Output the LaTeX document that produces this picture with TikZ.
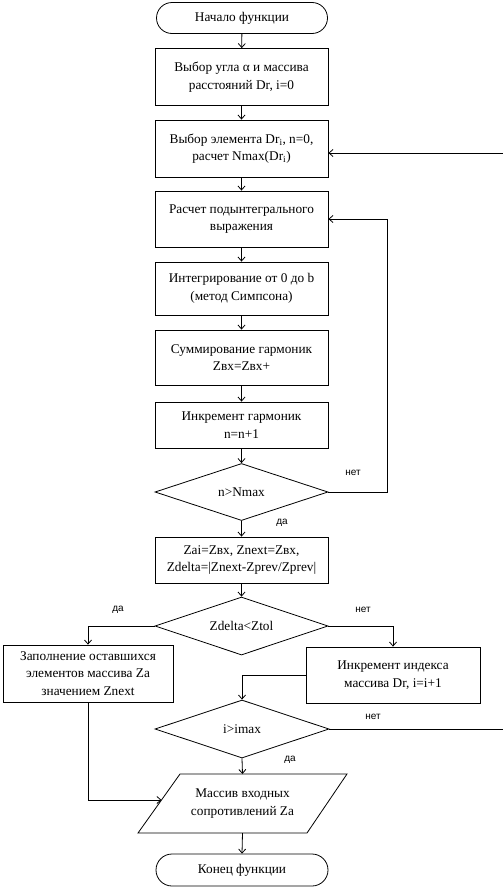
\documentclass[tikz,border=0pt]{standalone}
\usepackage{fontspec}
\setmainfont{Liberation Serif}
\newfontfamily\labfont{Liberation Sans}
\usetikzlibrary{shapes.geometric,shapes.misc,arrows.meta}
\begin{document}
\begin{tikzpicture}[x=1pt,y=-1pt,
  every node/.style={font=\fontsize{13.3}{17.5}\selectfont},
  box/.style={draw, line width=0.8pt, minimum width=173pt, align=center, inner sep=1pt},
  term/.style={draw, line width=0.8pt, rounded rectangle, minimum width=173pt, minimum height=31pt, inner sep=1pt},
  dec/.style={draw, line width=0.8pt, diamond, aspect=3, minimum width=173pt, minimum height=57pt, inner sep=0pt},
  lab/.style={font=\labfont\fontsize{10}{12}\selectfont, inner sep=0pt},
  arr/.style={line width=0.8pt, -{Straight Barb[length=4pt,width=7pt]}},
  ln/.style={line width=0.8pt}]
\useasboundingbox (0,0) rectangle (503,889);
\node[term] (start) at (242,18) {Начало функции};
\node[box, minimum height=57pt] (b1) at (241.5,77) {Выбор угла α и массива\\расстояний Dr, i=0};
\node[box, minimum height=57pt] (b2) at (241.5,148.5) {Выбор элемента Dr\textsubscript{i}, n=0,\\расчет Nmax(Dr\textsubscript{i})};
\node[box, minimum height=56pt] (b3) at (241.5,219) {Расчет подынтегрального\\выражения};
\node[box, minimum height=53pt] (b4) at (241.5,288.5) {Интегрирование от 0 до b\\(метод Симпсона)};
\node[box, minimum height=55pt] (b5) at (241.5,357.5) {Суммирование гармоник\\Zвх=Zвх+};
\node[box, minimum height=46pt] (b6) at (241.5,425) {Инкремент гармоник\\n=n+1};
\node[dec] (d1) at (241.5,492) {n>Nmax};
\node[box, minimum height=46pt] (b7) at (241.5,560) {Zai=Zвх, Znext=Zвх,\\Zdelta=|Znext-Zprev/Zprev|};
\node[dec, minimum height=58pt] (d2) at (241.5,626) {Zdelta<Ztol};
\node[box, minimum width=170pt, minimum height=57pt] (b8) at (88,673.5) {Заполнение оставшихся\\элементов массива Za\\значением Znext};
\node[box, minimum width=174pt, minimum height=56pt] (b9) at (393,675) {Инкремент индекса\\массива Dr, i=i+1};
\node[dec, minimum width=174pt, minimum height=58pt] (d3) at (242,729) {i>imax};
\coordinate (p1) at (138,833);
\coordinate (p2) at (307,833);
\coordinate (p3) at (347,774);
\coordinate (p4) at (180,774);
\draw[ln] (p1) -- (p2) -- (p3) -- (p4) -- cycle;
\node[align=center] (par) at (242.5,803.5) {Массив входных\\сопротивлений Za};
\coordinate (ptop) at (242.5,774);
\coordinate (pbot) at (242.5,833);
\coordinate (pleft) at (161.5,800);
\node[term, minimum width=174pt, minimum height=32pt] (end) at (242,870) {Конец функции};
% connectors
\draw[arr] (start) -- (b1);
\draw[arr] (b1) -- (b2);
\draw[arr] (b2) -- (b3);
\draw[arr] (b3) -- (b4);
\draw[arr] (b4) -- (b5);
\draw[arr] (b5) -- (b6);
\draw[arr] (b6) -- (d1);
\draw[arr] (d1) -- (b7);
\draw[arr] (b7) -- (d2);
\draw[arr] (d1.east) -- (387,492) |- (b3.east);
\draw[arr] (d2.west) -| (b8.north);
\draw[arr] (d2.east) -| (b9.north);
\draw[arr] (b9.west) -| (d3.north);
\coordinate (rin) at (b2.east |- 0,153);
\draw[arr] (d3.east) -- (507,729) -- (507,153) -- (rin);
\draw[arr] (d3.south) -- (ptop);
\draw[arr] (b8.south) |- (pleft);
\draw[arr] (pbot) -- (end.north);
% labels
\node[lab] (l1) at (353,473) {нет};
\node[lab] (l2) at (282,523) {да};
\node[lab] (l3) at (118,610) {да};
\node[lab] (l4) at (363,610) {нет};
\node[lab] (l5) at (373,717) {нет};
\node[lab] (l6) at (290,760) {да};
\end{tikzpicture}
\end{document}
